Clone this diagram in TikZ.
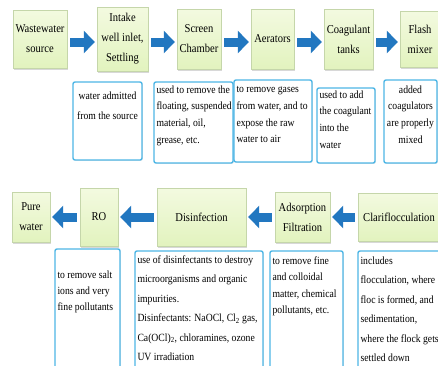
\documentclass[tikz,border=0pt]{standalone}
\usepackage{fontspec}
\setmainfont[FakeStretch=0.88]{Liberation Serif}
\usetikzlibrary{positioning,arrows.meta,shadows}

\definecolor{stageTop}{HTML}{F3FAE0}
\definecolor{stageFill}{HTML}{E2F3BE}
\definecolor{stageLine}{HTML}{C5D6AA}
\definecolor{noteLine}{HTML}{4DB6E6}
\definecolor{flowBlue}{HTML}{2277C0}

\begin{document}
\begin{tikzpicture}[
    x=1pt, y=-1pt,
    stage/.style={%
      draw=stageLine,
      top color=stageTop,
      bottom color=stageFill,
      drop shadow={shadow xshift=1pt, shadow yshift=-1.5pt, opacity=.3},
      align=center,
      inner sep=1pt,
      font=\fontsize{12}{20}\selectfont,
    },
    note/.style={%
      draw=noteLine,
      line width=1.4pt,
      rounded corners=2pt,
      fill=white,
      drop shadow={shadow xshift=.8pt, shadow yshift=-.8pt, opacity=.2},
    },
    notetext/.style={%
      inner xsep=3pt,
      inner ysep=0pt,
      align=left,
      anchor=north west,
      font=\fontsize{11}{16.7}\selectfont,
    },
    flow/.style={%
      draw=flowBlue,
      line width=9pt,
      -{Triangle[length=11pt,width=22pt]},
      shorten <=3pt,
      shorten >=2pt,
    },
  ]

    \fill [white] (0,0) rectangle (438,365);
    \useasboundingbox (0,0) rectangle (438,365);

    % top row
    \node [stage, minimum width=54pt, minimum height=58pt] (src) at (40,39) {Wastewater\\source};
    \path (src) ++(82.5,0) node [stage, minimum width=51pt, minimum height=64pt] (intake) {Intake\\well inlet,\\Settling};
    \path (intake) ++(76.5,0) node [stage, minimum width=44pt, minimum height=60pt] (screen) {Screen\\Chamber};
    \path (screen) ++(73.5,0) node [stage, minimum width=43pt, minimum height=60pt] (aer) {Aerators};
    \path (aer) ++(76,0) node [stage, minimum width=49pt, minimum height=60pt] (coag) {Coagulant\\tanks};
    \path (coag) ++(71.5,0) node [stage, minimum width=40pt, minimum height=56pt] (flash) {Flash\\mixer};

    \draw [flow] ([yshift=-3pt]src.east) -- ([yshift=-3pt]intake.west);
    \draw [flow] ([yshift=-3pt]intake.east) -- ([yshift=-3pt]screen.west);
    \draw [flow] ([yshift=-3pt]screen.east) -- ([yshift=-3pt]aer.west);
    \draw [flow] ([yshift=-3pt]aer.east) -- ([yshift=-3pt]coag.west);
    \draw [flow] ([yshift=-3pt]coag.east) -- ([yshift=-3pt]flash.west);

    \node [note, minimum width=69pt, minimum height=78pt, label={[notetext, anchor=north, align=center, yshift=-10pt, font=\fontsize{11}{20}\selectfont]north:{water admitted\\from the source}}] (srcNote) at (107.5,121) {};
    \node [note, minimum width=79pt, minimum height=81pt, label={[notetext, yshift=-4pt]north west:{used to remove the\\floating, suspended\\material, oil,\\grease, etc.}}] (screenNote) at (193.5,122.5) {};
    \node [note, minimum width=78pt, minimum height=82pt, label={[notetext, yshift=-7pt]north west:{to remove gases\\from water, and to\\expose the raw\\water to air}}] (aerNote) at (273,121) {};
    \node [note, minimum width=58pt, minimum height=75pt, label={[notetext, yshift=-3pt]north west:{used to add\\the coagulant\\into the\\water}}] (coagNote) at (346,125.5) {};
    \node [note, minimum width=53pt, minimum height=83pt, label={[notetext, anchor=north, align=center, yshift=-6pt]north:{added\\coagulators\\are properly\\mixed}}] (flashNote) at (410.5,121.5) {};

    % bottom row
    \node [stage, minimum width=82pt, minimum height=48pt] (clari) at (399,217) {Clariflocculation};
    \path (clari) ++(-96.5,0) node [stage, minimum width=55pt, minimum height=50pt] (ads) {Adsorption\\Filtration};
    \path (ads) ++(-101,0) node [stage, minimum width=89pt, minimum height=58pt] (dis) {Disinfection};
    \path (dis) ++(-102.5,0) node [stage, minimum width=38pt, minimum height=58pt] (ro) {RO};
    \path (ro) ++(-68,0) node [stage, minimum width=38pt, minimum height=50pt] (pure) {Pure\\water};

    \draw [flow] (clari) -- (ads);
    \draw [flow] (ads) -- (dis);
    \draw [flow] (dis) -- (ro);
    \draw [flow] (ro) -- (pure);

    \node [note, minimum width=65pt, minimum height=126pt, label={[notetext, yshift=-22pt, font=\fontsize{11}{16}\selectfont]north west:{to remove salt\\ions and very\\fine pollutants}}] (roNote) at (87.5,312) {};
    \node [note, minimum width=128pt, minimum height=124pt, label={[notetext, yshift=-5pt, font=\fontsize{11}{19.5}\selectfont]north west:{use of disinfectants to destroy\\microorganisms and organic\\impurities.\\Disinfectants: NaOCl, Cl\textsubscript{2} gas,\\Ca(OCl)\textsubscript{2}, chloramines, ozone\\UV irradiation}}] (disNote) at (199,313) {};
    \node [note, minimum width=73pt, minimum height=124pt, label={[notetext, yshift=-6pt, font=\fontsize{11}{16.5}\selectfont]north west:{to remove fine\\and colloidal\\matter, chemical\\pollutants, etc.}}] (adsNote) at (306.5,313) {};
    \node [note, minimum width=87pt, minimum height=124pt, label={[notetext, yshift=-6pt, font=\fontsize{11}{19.5}\selectfont]north west:{includes\\flocculation, where\\floc is formed, and\\sedimentation,\\where the flock gets\\settled down}}] (clariNote) at (401.5,313) {};
\end{tikzpicture}
\end{document}
